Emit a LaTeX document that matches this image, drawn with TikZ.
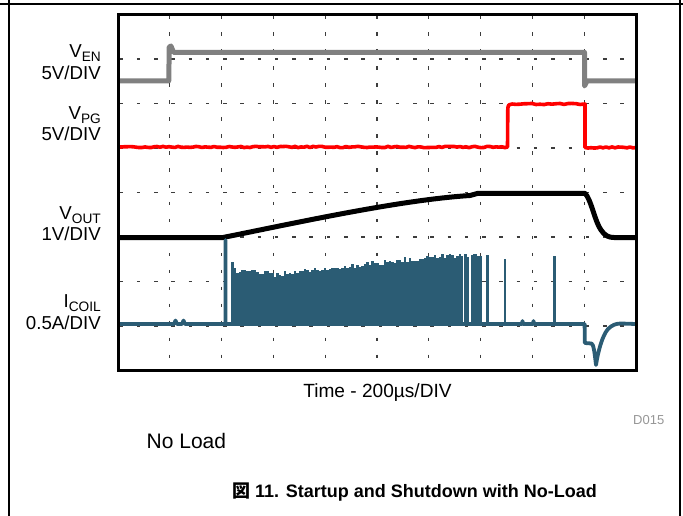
\documentclass[tikz,border=0pt]{standalone}
\usepackage{fontspec}
\setmainfont{Liberation Sans}
\newfontfamily\cjkfont{Noto Sans CJK JP}
\newcommand\subtxt[1]{\raisebox{-4.3pt}{\fontsize{13.7}{14}\selectfont #1}}
\definecolor{traceEN}{RGB}{128,128,128}
\definecolor{tracePG}{RGB}{255,0,0}
\definecolor{traceIL}{RGB}{43,92,116}
\definecolor{gridc}{RGB}{60,60,60}
\definecolor{tagc}{RGB}{150,150,150}
\begin{document}
\begin{tikzpicture}[x=1pt,y=-1pt,
  declare function={env(\x)=(\x<267)*272+(\x>=267)*max(256,275-0.11*(\x-267));},
  frame/.style={line width=1.2pt,black},
  gridv/.style={gridc,line width=1.1pt,dash pattern=on 3.5pt off 13.45pt,dash phase=15.95pt},
  gridh/.style={gridc,line width=1.1pt,dash pattern=on 3.5pt off 13.77pt,dash phase=15.77pt},
  trace/.style={line join=round,line cap=butt},
  lbl/.style={anchor=base east,inner sep=0pt,font=\fontsize{18.7}{20}\selectfont},
  txt/.style={inner sep=0pt,font=\fontsize{19.1}{21}\selectfont}]
\useasboundingbox (0,0) rectangle (683,516);

% page rules
\draw[frame] (0,4) -- (683,4);
\draw[frame] (9,0) -- (9,516);
\draw[frame] (680,0) -- (680,516);

% graticule
\foreach \i in {1,...,9}
  \draw[gridv] ({118+51.8*\i},14.5) -- ({118+51.8*\i},370.5);
\foreach \j in {1,...,7}
  \draw[gridh] (118,{14.5+44.5*\j}) -- (636,{14.5+44.5*\j});

% enable
\draw[trace,traceEN,line width=5pt]
  (118,80.8) -- (168.8,80.8) -- (169.2,47) -- (171,46) -- (173.5,52.3)
  -- (584.5,52.3) -- (584.5,86) -- (587,81) -- (636,81);

% power good
\pgfmathsetseed{11}
\draw[trace,tracePG,line width=3.6pt]
  (118,147) foreach \x in {121,124,...,505} {-- (\x,{147+0.7*rand})}
  -- (507.5,147) -- (507.8,109) .. controls (508,105) and (509,104) .. (512,104)
  foreach \x in {516,520,...,580} {-- (\x,{104+0.6*rand})}
  -- (585,104) -- (585,147.5)
  foreach \x in {588,591,...,633} {-- (\x,{147.5+0.7*rand})} -- (636,147.5);

% output voltage
\draw[trace,black,line width=5pt]
  (118,237.5) -- (223,237.5) .. controls (300,222) and (400,200) .. (470,195.5)
  -- (478,193.3) -- (585,193.3)
  .. controls (591,199) and (595,222) .. (601,230)
  .. controls (605,236) and (609,237.5) .. (614,237.5) -- (636,237.5);

% coil current: switching burst
\pgfmathsetseed{5}
\fill[traceIL] (230.5,325.5) rectangle (233.6,262);
\fill[traceIL] (233.5,325.5) rectangle (236.1,268);
\foreach \x in {236,238.5,...,458.5}{
  \pgfmathsetmacro\yt{env(\x)+2.6*rand}
  \fill[traceIL] (\x,325.5) rectangle ({\x+2.6},\yt);
}
\fill[traceIL] (461,325.5) rectangle (462.6,255.5);
\fill[traceIL] (463.8,325.5) rectangle (466.5,254);
\fill[traceIL] (466.4,325.5) rectangle (469.3,256.5);
\fill[traceIL] (470.7,325.5) rectangle (473.5,254.5);
\fill[traceIL] (473.4,325.5) rectangle (477,253.5);
\fill[traceIL] (476.9,325.5) rectangle (481.5,256);

% coil current: trace
\draw[trace,traceIL,line width=3.8pt]
  (118,324) -- (174,324) -- (175.5,320.5) -- (177,324) -- (182,324) -- (183.5,320.5) -- (185,324)
  -- (225.5,324) -- (225.5,240) -- (225.5,324) -- (522,324) -- (522.5,321) -- (523,324)
  -- (533,324) -- (533.5,321) -- (534,324)
  -- (584.6,324) -- (584.8,343) -- (591.5,343.5)
  .. controls (593.5,344) and (594.5,352) .. (596,365)
  .. controls (598,352) and (602,336) .. (608,329)
  .. controls (612,325) and (616,323.5) .. (621,323.5) -- (636,324);
\foreach \x/\t in {487.5/255, 505/258.5, 554.3/256}
  \draw[traceIL,line width=2.8pt] (\x,324) -- (\x,\t);

% scope border
\draw[black,line width=3pt] (118,14.5) rectangle (636,370.5);

% channel labels
\node[lbl] (enA) at (101,57.7) {V\subtxt{EN}};
\node[lbl] (enB) at (101,79.8) {5V/DIV};
\node[lbl] (pgA) at (101,119.5) {V\subtxt{PG}};
\node[lbl] (pgB) at (101,140.5) {5V/DIV};
\node[lbl] (outA) at (101,219.2) {V\subtxt{OUT}};
\node[lbl] (outB) at (101,240.2) {1V/DIV};
\node[lbl] (ilA) at (101,307.3) {I\subtxt{COIL}};
\node[lbl] (ilB) at (101,329) {0.5A/DIV};

% captions
\node[txt,anchor=base] (tax) at (377.5,397) {Time - 200µs/DIV};
\node[inner sep=0pt,anchor=base east,text=tagc,font=\fontsize{13}{14}\selectfont] (tag) at (664.5,424.5) {D015};
\node[txt,anchor=base west,font=\fontsize{21}{23}\selectfont] (load) at (146.5,448) {No Load};
\node[inner sep=0pt,anchor=base west,font=\fontsize{18}{20}\selectfont\bfseries] (title) at (232,497)
  {{\cjkfont 図} 11. Startup and Shutdown with No-Load};
\end{tikzpicture}
\end{document}
